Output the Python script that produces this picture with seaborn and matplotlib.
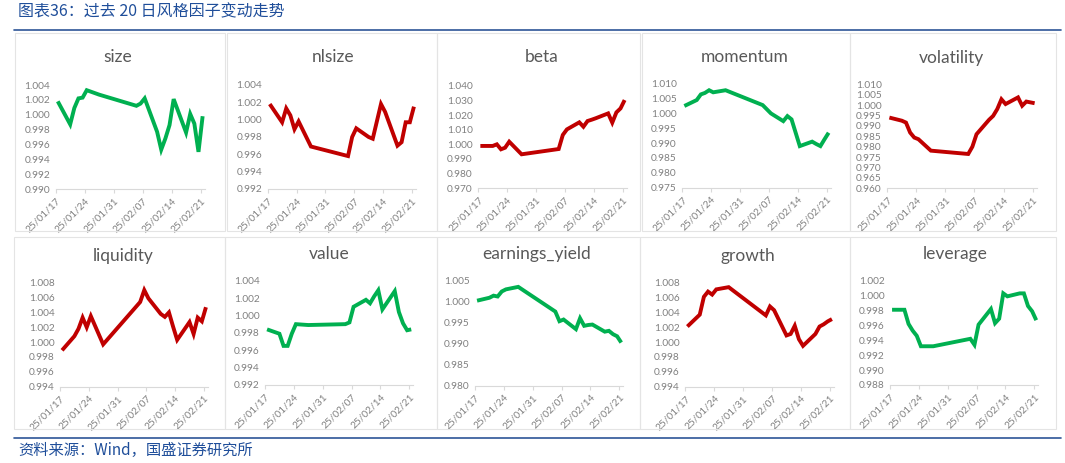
import numpy as np
import pandas as pd
import matplotlib
matplotlib.use("Agg")
import matplotlib.pyplot as plt
from matplotlib.patches import Rectangle
from matplotlib.lines import Line2D
import seaborn as sns

# ---------------- data ----------------
dates = ["2025-01-17", "2025-01-20", "2025-01-21", "2025-01-22", "2025-01-23",
         "2025-01-24", "2025-01-27", "2025-02-05", "2025-02-06", "2025-02-07",
         "2025-02-10", "2025-02-11", "2025-02-12", "2025-02-13", "2025-02-14",
         "2025-02-17", "2025-02-18", "2025-02-19", "2025-02-20", "2025-02-21"]
tick_labels = ["25/01/17", "25/01/24", "25/01/31", "25/02/07", "25/02/14", "25/02/21"]

size = [1.0018, 0.9987, 1.0009, 1.0022, 1.0023, 1.0033, 1.0027, 1.0012, 1.0015, 1.0022,
        0.9977, 0.9953, 0.9968, 0.9986, 1.0021, 0.9976, 1.0001, 0.9988, 0.9950, 0.9998]
nlsize = [1.0018, 0.9997, 1.0013, 1.0005, 0.9989, 0.9998, 0.9969, 0.9958, 0.9980, 0.9990,
          0.9980, 0.9978, 0.9998, 1.0018, 1.0009, 0.9970, 0.9974, 0.9997, 0.9997, 1.0015]
beta = [0.9989, 0.9989, 1.0000, 0.9966, 0.9977, 1.0018, 0.9932, 0.9968, 1.0064, 1.0102,
        1.0150, 1.0120, 1.0159, 1.0168, 1.0178, 1.0211, 1.0148, 1.0218, 1.0245, 1.0302]
momentum = [1.0025, 1.0045, 1.0064, 1.0069, 1.0078, 1.0071, 1.0078, 1.0028, 1.0014, 1.0000,
            0.9974, 0.9991, 0.9980, 0.9935, 0.9890, 0.9905, 0.9897, 0.9890, 0.9913, 0.9935]
volatility = [0.9940, 0.9925, 0.9916, 0.9868, 0.9844, 0.9836, 0.9781, 0.9765, 0.9800, 0.9860,
              0.9929, 0.9948, 0.9981, 1.0028, 1.0005, 1.0037, 0.9997, 1.0017, 1.0013, 1.0009]
liquidity = [0.9989, 1.0008, 1.0018, 1.0033, 1.0020, 1.0035, 0.9997, 1.0054, 1.0070, 1.0059,
             1.0038, 1.0034, 1.0040, 1.0021, 1.0003, 1.0027, 1.0011, 1.0033, 1.0028, 1.0047]
value = [0.9984, 0.9979, 0.9965, 0.9965, 0.9979, 0.9990, 0.9989, 0.9990, 0.9992, 1.0010,
         1.0018, 1.0014, 1.0022, 1.0029, 1.0007, 1.0028, 1.0004, 0.9991, 0.9983, 0.9984]
earnings_yield = [1.0003, 1.0010, 1.0015, 1.0013, 1.0025, 1.0030, 1.0036, 0.9977, 0.9954, 0.9958,
                  0.9935, 0.9961, 0.9943, 0.9945, 0.9946, 0.9929, 0.9931, 0.9923, 0.9918, 0.9903]
growth = [1.0021, 1.0037, 1.0061, 1.0068, 1.0064, 1.0071, 1.0074, 1.0036, 1.0048, 1.0043,
          1.0009, 1.0011, 1.0022, 1.0004, 0.9995, 1.0011, 1.0021, 1.0024, 1.0028, 1.0031]
leverage = [0.9981, 0.9981, 0.9962, 0.9953, 0.9946, 0.9932, 0.9932, 0.9942, 0.9934, 0.9961,
            0.9982, 0.9963, 0.9969, 1.0003, 0.9999, 1.0003, 1.0003, 0.9986, 0.9979, 0.9967]

GREEN = "#00B050"
RED = "#C00000"

# name, values, color, ymin, ymax, step, axes box (px: left, top, right, bottom), title pos (px), panel box (px)
panels = [
    ("size", size, GREEN, 0.990, 1.004, 0.002, (55.7, 85.0, 204.7, 189.0), (118, 57.5), (15, 33, 225, 231)),
    ("nlsize", nlsize, RED, 0.992, 1.004, 0.002, (267.7, 85.0, 416.0, 189.0), (333, 57.5), (227, 33, 437, 231)),
    ("beta", beta, RED, 0.970, 1.040, 0.010, (478.3, 85.7, 626.7, 188.3), (541.7, 57.5), (437, 33, 640, 231)),
    ("momentum", momentum, GREEN, 0.975, 1.010, 0.005, (682.3, 83.7, 830.7, 187.7), (745, 56.5), (642, 33, 850, 231)),
    ("volatility", volatility, RED, 0.960, 1.010, 0.005, (887.3, 84.3, 1036.7, 188.3), (951.7, 57.5), (850, 33, 1056, 231)),
    ("liquidity", liquidity, RED, 0.994, 1.008, 0.002, (60.0, 282.7, 208.0, 386.7), (123.3, 256.0), (14, 237, 225, 429)),
    ("value", value, GREEN, 0.992, 1.004, 0.002, (265.0, 280.7, 413.3, 385.0), (329, 254.3), (225, 237, 437, 429)),
    ("earnings_yield", earnings_yield, GREEN, 0.980, 1.005, 0.005, (475.0, 281.0, 623.3, 385.7), (536.7, 254.3), (437, 237, 640, 429)),
    ("growth", growth, RED, 0.994, 1.008, 0.002, (685.3, 282.7, 834.0, 386.7), (748.3, 255.5), (640, 237, 850, 429)),
    ("leverage", leverage, GREEN, 0.988, 1.002, 0.002, (890.0, 280.7, 1038.3, 385.0), (955, 254.3), (850, 237, 1056, 429)),
]

sns.set_theme(style="white")
plt.rcParams["font.family"] = ["Lato", "Noto Sans CJK SC", "DejaVu Sans"]

W, H = 1065, 463
fig = plt.figure(figsize=(W / 100, H / 100), dpi=100)
fig.patch.set_facecolor("white")

def fx(x):
    return x / W

def fy(y):
    return 1 - y / H

x_dates = pd.to_datetime(dates)
half = pd.Timedelta(hours=12)
tick_pos = pd.to_datetime(["2025-01-17", "2025-01-24", "2025-01-31",
                           "2025-02-07", "2025-02-14", "2025-02-21"]) - half

# panel frames
for p in panels:
    l, t, r, b = p[8]
    fig.patches.append(Rectangle((fx(l), fy(b)), fx(r) - fx(l), fy(t) - fy(b),
                                 transform=fig.transFigure, fill=False,
                                 edgecolor="#E4E4E4", linewidth=0.8, zorder=0))

for name, vals, color, ymin, ymax, step, box, tpos, _ in panels:
    l, t, r, b = box
    ax = fig.add_axes([fx(l), fy(b), fx(r) - fx(l), fy(t) - fy(b)])
    df = pd.DataFrame({"date": x_dates, "val": vals})
    sns.lineplot(data=df, x="date", y="val", ax=ax, color=color, linewidth=2.8,
                 solid_joinstyle="miter", solid_capstyle="butt")
    ax.set_xlim(x_dates[0] - half, x_dates[-1] + half)
    ax.set_ylim(ymin, ymax)
    ax.set_yticks(np.round(np.arange(ymin, ymax + step / 2, step), 3))
    ax.yaxis.set_major_formatter(matplotlib.ticker.FormatStrFormatter("%.3f"))
    ax.set_xticks(tick_pos)
    ax.set_xticklabels(tick_labels, rotation=45, ha="right", rotation_mode="anchor")
    ax.set_xlabel("")
    ax.set_ylabel("")
    ax.patch.set_alpha(0)
    for s in ["left", "right", "top"]:
        ax.spines[s].set_visible(False)
    ax.spines["bottom"].set_color("#D9D9D9")
    ax.spines["bottom"].set_linewidth(0.8)
    ax.tick_params(axis="y", length=0, labelsize=7.3, labelcolor="#808080", pad=4)
    ax.tick_params(axis="x", length=3, width=0.8, color="#D9D9D9", labelsize=7.3,
                   labelcolor="#808080", pad=2, direction="out", bottom=True)
    ax.grid(False)
    fig.text(fx(tpos[0]), fy(tpos[1]), name, ha="center", va="center",
             fontsize=12.5, color="#595959")

# header and footer
cjk = ["Noto Sans CJK SC", "DejaVu Sans"]
fig.text(fx(18), fy(12), "图表36：过去 20 日风格因子变动走势", ha="left", va="center",
         fontsize=11.5, color="#1F4E9A", family=cjk, style="italic")
fig.add_artist(Line2D([fx(14), fx(1061)], [fy(30), fy(30)], transform=fig.transFigure,
                      color="#2E5597", linewidth=1.2))
fig.add_artist(Line2D([fx(14), fx(1061)], [fy(438), fy(438)], transform=fig.transFigure,
                      color="#2E5597", linewidth=1.2))
fig.text(fx(18), fy(450), "资料来源：Wind，国盛证券研究所", ha="left", va="center",
         fontsize=11, color="#1F4E9A", family=cjk, style="italic")

fig.savefig("out.png", dpi=100, facecolor="white")
